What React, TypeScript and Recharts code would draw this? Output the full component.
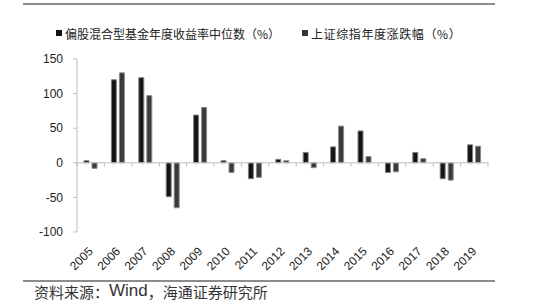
import React from "react";
import { BarChart, Bar, XAxis, YAxis, ReferenceLine } from "recharts";

const years = ["2005","2006","2007","2008","2009","2010","2011","2012","2013","2014","2015","2016","2017","2018","2019"];
const fundMedian = [3, 120, 123, -49, 69, 3, -23, 5, 15, 23, 46, -14, 15, -23, 26];
const indexChange = [-8, 130, 97, -65, 80, -14, -21, 3, -7, 53, 9, -13, 6, -25, 24];
const yTicks = [-100, -50, 0, 50, 100, 150];

const fundName = "偏股混合型基金年度收益率中位数（%）";
const indexName = "上证综指年度涨跌幅（%）";

const data = years.map((y, i) => ({ year: y, fund: fundMedian[i], index: indexChange[i] }));

const PLOT_LEFT = 77;
const PLOT_RIGHT = 488;
const PLOT_TOP = 59;
const PLOT_BOTTOM = 232;
const CJK = '"Noto Sans CJK SC", "Noto Sans", sans-serif';
const LATIN = '"Liberation Sans", Arial, sans-serif';

const bw = (PLOT_RIGHT - PLOT_LEFT) / years.length;
const zeroY = PLOT_TOP + (PLOT_BOTTOM - PLOT_TOP) * (150 / 250);

const XTick = (props: any) => {
  const { x, y, payload, index } = props;
  const tx = x + 3;
  const ty = y + 12;
  return (
    <g>
      <line x1={x - bw / 2} x2={x - bw / 2} y1={zeroY} y2={zeroY + 4} stroke="#bfbfbf" />
      {index === years.length - 1 && (
        <line x1={x + bw / 2} x2={x + bw / 2} y1={zeroY} y2={zeroY + 4} stroke="#bfbfbf" />
      )}
      <text
        x={tx}
        y={ty}
        transform={`rotate(-45, ${tx}, ${ty})`}
        textAnchor="end"
        fontSize={12}
        fontFamily={LATIN}
        fill="#222"
      >
        {payload.value}
      </text>
    </g>
  );
};

export default function App() {
  return (
    <div style={{ position: "absolute", left: 0, top: 0, width: 550, height: 305, background: "#fff" }}>
      <div style={{ position: "absolute", left: 23, top: 3, width: 472, height: 2, background: "#8c8c8c" }} />
      <div style={{ position: "absolute", left: 23, top: 280, width: 472, height: 2, background: "#8c8c8c" }} />
      <div style={{ position: "absolute", left: 56, top: 24, height: 18, display: "flex", alignItems: "center", fontFamily: CJK, fontSize: 12, color: "#222", whiteSpace: "nowrap" }}>
        <span style={{ display: "inline-block", width: 6, height: 6, background: "#111", marginRight: 3 }} />
        <span>{fundName}</span>
      </div>
      <div style={{ position: "absolute", left: 302, top: 24, height: 18, display: "flex", alignItems: "center", fontFamily: CJK, fontSize: 12, color: "#222", whiteSpace: "nowrap" }}>
        <span style={{ display: "inline-block", width: 6, height: 6, background: "#333", marginRight: 3 }} />
        <span style={{ letterSpacing: 0.6 }}>{indexName}</span>
      </div>
      <div style={{ position: "absolute", left: 34, top: 281, height: 20, display: "flex", alignItems: "center", fontFamily: CJK, fontSize: 15, color: "#333", whiteSpace: "nowrap" }}>
        资料来源：<span style={{ fontFamily: LATIN, fontSize: 17 }}>Wind</span>，海通证券研究所
      </div>
      <div style={{ position: "absolute", left: 0, top: 0 }}>
        <BarChart
          width={550}
          height={305}
          data={data}
          margin={{ top: PLOT_TOP, right: 550 - PLOT_RIGHT, bottom: 305 - PLOT_BOTTOM - 40, left: PLOT_LEFT - 40 }}
          barSize={5}
          barGap={3}
        >
          <XAxis
            dataKey="year"
            height={40}
            axisLine={false}
            tickLine={false}
            interval={0}
            tick={<XTick />}
          />
          <YAxis
            width={40}
            domain={[-100, 150]}
            ticks={yTicks}
            interval={0}
            axisLine={{ stroke: "#bfbfbf" }}
            tickLine={{ stroke: "#bfbfbf" }}
            tickSize={4}
            tickMargin={10}
            tick={{ fontSize: 12, fontFamily: LATIN, fill: "#222" }}
          />
          <ReferenceLine y={0} stroke="#bfbfbf" />
          <Bar dataKey="fund" name={fundName} fill="#141414" stroke="#808080" strokeWidth={1} isAnimationActive={false} />
          <Bar dataKey="index" name={indexName} fill="#3a3a3a" stroke="#8c8c8c" strokeWidth={1} isAnimationActive={false} />
        </BarChart>
      </div>
    </div>
  );
}
